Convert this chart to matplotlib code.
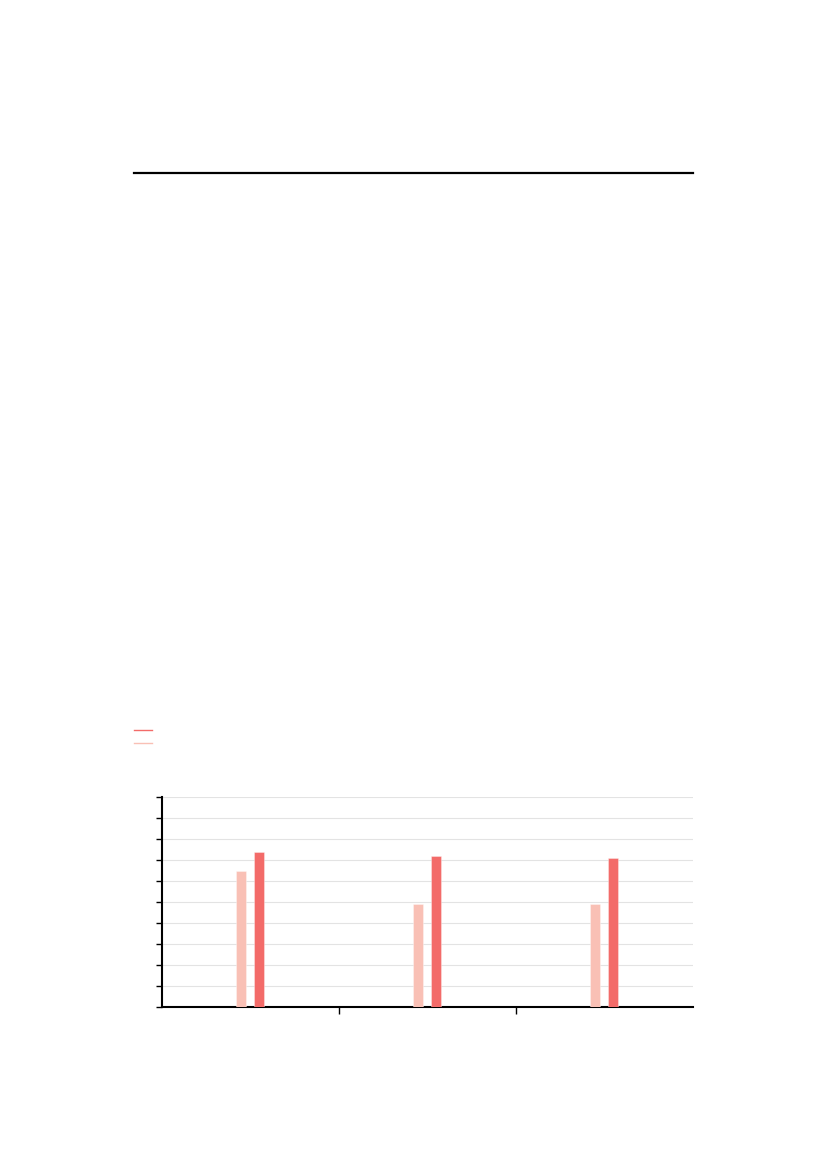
import numpy as np
import matplotlib
matplotlib.use("Agg")
import matplotlib.pyplot as plt
from matplotlib.lines import Line2D

# values (no labels shown in the reference)
categories = ["A", "B", "C"]
series_light = [6.5, 4.9, 4.9]
series_dark = [7.4, 7.2, 7.1]
y_ticks = np.arange(0, 11, 1)

light_color = "#f9c0b5"
dark_color = "#f36b69"

fig = plt.figure(figsize=(8.27, 11.69), dpi=100)
ax = fig.add_axes([161.5 / 827, 1 - 1007 / 1169, (692.7 - 161.5) / 827, (1007 - 797.3) / 1169])

x = np.arange(len(categories)) + 0.5
bar_w = 0.056
off = 0.052

ax.bar(x - off, series_light, width=bar_w, color=light_color,
       edgecolor=(1, 1, 1, 0.4), linewidth=0.6, zorder=3)
ax.bar(x + off, series_dark, width=bar_w, color=dark_color,
       edgecolor=(1, 1, 1, 0.4), linewidth=0.6, zorder=3)

ax.set_xlim(0, len(categories))
ax.set_ylim(0, 10)
ax.set_yticks(y_ticks)
ax.set_xticks(np.arange(1, len(categories)))
ax.set_yticklabels([])
ax.set_xticklabels([])
ax.tick_params(axis="y", length=4.5, width=1.0, color="black")
ax.tick_params(axis="x", length=5, width=1.0, color="black")

ax.grid(axis="y", color="#e3e3e3", linewidth=0.8, zorder=0)
ax.set_axisbelow(True)
for s in ["top", "right"]:
    ax.spines[s].set_visible(False)
for s in ["left", "bottom"]:
    ax.spines[s].set_linewidth(1.5)
    ax.spines[s].set_color("black")

# top rule
fig.add_artist(Line2D([133.7 / 827, 692.7 / 827], [1 - 173 / 1169] * 2,
                      color="black", linewidth=1.6, transform=fig.transFigure))

# legend swatches (no text)
for yy, c in [(730, dark_color), (743, light_color)]:
    fig.add_artist(Line2D([134 / 827, 152 / 827], [1 - yy / 1169] * 2,
                          color=c, linewidth=1.0, transform=fig.transFigure))

fig.savefig("out.png", dpi=100)
